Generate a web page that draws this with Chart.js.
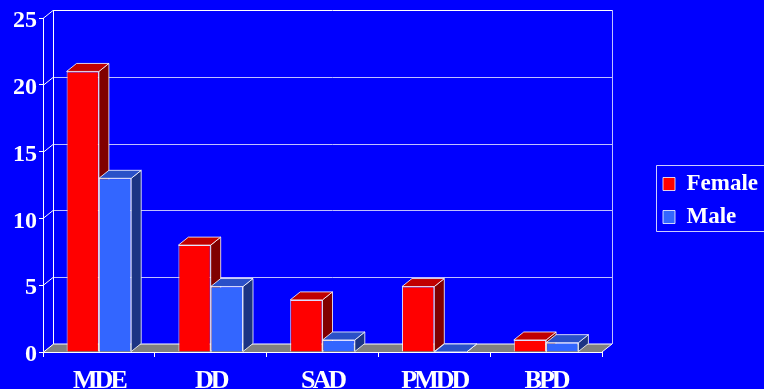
<!DOCTYPE html>
<html>
<head>
<meta charset="utf-8">
<script src="https://cdn.jsdelivr.net/npm/chart.js@4.4.1/dist/chart.umd.min.js"></script>
<style>
  html, body { margin: 0; padding: 0; background: #0000ff; overflow: hidden; }
  #wrap { width: 764px; height: 389px; }
</style>
</head>
<body>
<div id="wrap"><canvas id="myChart"></canvas></div>
<script>
const categories = ['MDE', 'DD', 'SAD', 'PMDD', 'BPD'];
const female = [21, 8, 3.9, 4.9, 0.9];
const male = [13, 4.9, 0.9, 0, 0.7];
const yTicks = [0, 5, 10, 15, 20, 25];

// depth of the fake 3d
const DX = 10, DY = 8;
const edge = 'rgba(255,255,255,0.8)';
const faceColors = [
    { top: '#c00000', side: '#800000' },
    { top: '#2a50c8', side: '#1c3484' }
];

function poly(ctx, pts, fill, stroke) {
    ctx.beginPath();
    ctx.moveTo(pts[0][0], pts[0][1]);
    for (let i = 1; i < pts.length; i++) ctx.lineTo(pts[i][0], pts[i][1]);
    ctx.closePath();
    if (fill) { ctx.fillStyle = fill; ctx.fill(); }
    if (stroke) { ctx.strokeStyle = stroke; ctx.lineWidth = 1; ctx.stroke(); }
}

function line(ctx, x1, y1, x2, y2, color) {
    ctx.beginPath();
    ctx.moveTo(x1, y1);
    ctx.lineTo(x2, y2);
    ctx.strokeStyle = color;
    ctx.lineWidth = 1;
    ctx.stroke();
}

// squeeze the letters of a scale's labels a bit
function tighten(scale, spacing) {
    if (scale._tight) return;
    const orig = scale.drawLabels;
    scale.drawLabels = function (area) {
        this.ctx.save();
        this.ctx.letterSpacing = spacing;
        orig.call(this, area);
        this.ctx.restore();
    };
    scale._tight = true;
}

const threeD = {
    id: 'threeD',
    beforeInit(chart) {
        const fit = chart.legend.fit;
        chart.legend.fit = function () {
            fit.call(this);
            this.width = 162;
        };
    },
    afterLayout(chart) {
        chart.legend.left = 653;
        chart.legend.top -= 3;
        chart.legend.bottom -= 3;
        tighten(chart.scales.x, '-3px');
    },
    beforeDatasetsDraw(chart) {
        const ctx = chart.ctx;
        const { left, right, bottom } = chart.chartArea;
        const y = chart.scales.y;
        ctx.save();

        // floor
        poly(ctx, [[left, bottom], [left + DX, bottom - DY], [right + DX, bottom - DY], [right, bottom]], '#808080');
        line(ctx, left + DX, bottom - DY, right + DX, bottom - DY, '#ffffff');
        line(ctx, right, bottom, right + DX, bottom - DY, '#ffffff');

        // back wall + left wall
        yTicks.forEach(v => {
            const py = Math.round(y.getPixelForValue(v)) + 0.5;
            if (v > 0) {
                line(ctx, left + DX, py - DY, right + DX, py - DY, v === 25 ? '#ffffff' : 'rgba(225,225,255,0.85)');
            }
            line(ctx, left, py, left + DX, py - DY, '#ffffff');
        });
        const topPx = y.getPixelForValue(25), botPx = y.getPixelForValue(0);
        line(ctx, left + DX + 0.5, topPx - DY, left + DX + 0.5, botPx - DY, '#ffffff');
        line(ctx, right + DX + 0.5, topPx - DY, right + DX + 0.5, botPx - DY, 'rgba(225,225,255,0.85)');

        // side and top faces of the bars, fronts are drawn by chart.js after this
        chart.data.datasets.forEach((ds, di) => {
            const meta = chart.getDatasetMeta(di);
            meta.data.forEach(bar => {
                const { x, y: by, base, width } = bar.getProps(['x', 'y', 'base', 'width'], true);
                const l = x - width / 2, r = x + width / 2;
                poly(ctx, [[r, by], [r + DX, by - DY], [r + DX, base - DY], [r, base]], faceColors[di].side, edge);
                poly(ctx, [[l, by], [l + DX, by - DY], [r + DX, by - DY], [r, by]], faceColors[di].top, edge);
            });
        });
        ctx.restore();
    },
    afterDraw(chart) {
        // box round the legend, its right side runs off the canvas
        const lg = chart.legend;
        const pad = 10;
        const colH = lg.columnSizes[0].height;
        const y0 = (lg.top + pad + lg.bottom - colH) / 2;
        const ctx = chart.ctx;
        const bx = Math.round(lg.left + 3) + 0.5, by = Math.round(y0 - 8) + 0.5, farX = chart.width + 20;
        ctx.save();
        ctx.strokeStyle = 'rgba(255,255,255,0.8)';
        ctx.lineWidth = 1;
        ctx.beginPath();
        ctx.moveTo(farX, by);
        ctx.lineTo(bx, by);
        ctx.lineTo(bx, by + 66);
        ctx.lineTo(farX, by + 66);
        ctx.stroke();
        ctx.restore();
    }
};

Chart.defaults.color = '#ffffff';
Chart.defaults.font.family = '"Liberation Serif", "Times New Roman", serif';
Chart.defaults.font.weight = 'bold';

const ctx = document.getElementById('myChart').getContext('2d');
const myChart = new Chart(ctx, {
    type: 'bar',
    data: {
        labels: categories,
        datasets: [{
            label: 'Female',
            data: female,
            backgroundColor: '#ff0000',
            borderColor: edge,
            borderWidth: 1
        }, {
            label: 'Male',
            data: male,
            backgroundColor: '#3366ff',
            borderColor: edge,
            borderWidth: 1
        }]
    },
    options: {
        responsive: true,
        maintainAspectRatio: false,
        animation: false,
        layout: { padding: { top: 18, left: 0, right: 0, bottom: 0 } },
        datasets: {
            bar: { categoryPercentage: 0.578, barPercentage: 1 }
        },
        plugins: {
            tooltip: { enabled: false },
            legend: {
                position: 'right',
                labels: {
                    color: '#ffffff',
                    boxWidth: 12,
                    boxHeight: 13,
                    padding: 10,
                    font: { size: 23, weight: 'bold' }
                }
            }
        },
        scales: {
            x: {
                afterFit: scale => { scale.height = 37; },
                grid: { drawOnChartArea: false, drawTicks: true, tickLength: 5, color: '#ffffff' },
                border: { display: true, color: '#ffffff' },
                ticks: {
                    color: '#ffffff',
                    padding: 9,
                    maxRotation: 0,
                    autoSkip: false,
                    font: { size: 26, weight: 'bold' }
                }
            },
            y: {
                min: 0,
                max: 25,
                afterFit: scale => { scale.width = 43; },
                afterBuildTicks: scale => { scale.ticks = yTicks.map(v => ({ value: v })); },
                grid: { drawOnChartArea: false, drawTicks: true, tickLength: 4, color: '#ffffff' },
                border: { display: true, color: '#ffffff' },
                ticks: {
                    color: '#ffffff',
                    padding: 2,
                    labelOffset: 3,
                    font: { size: 24, weight: 'bold' }
                }
            }
        }
    },
    plugins: [threeD]
});
</script>
</body>
</html>
